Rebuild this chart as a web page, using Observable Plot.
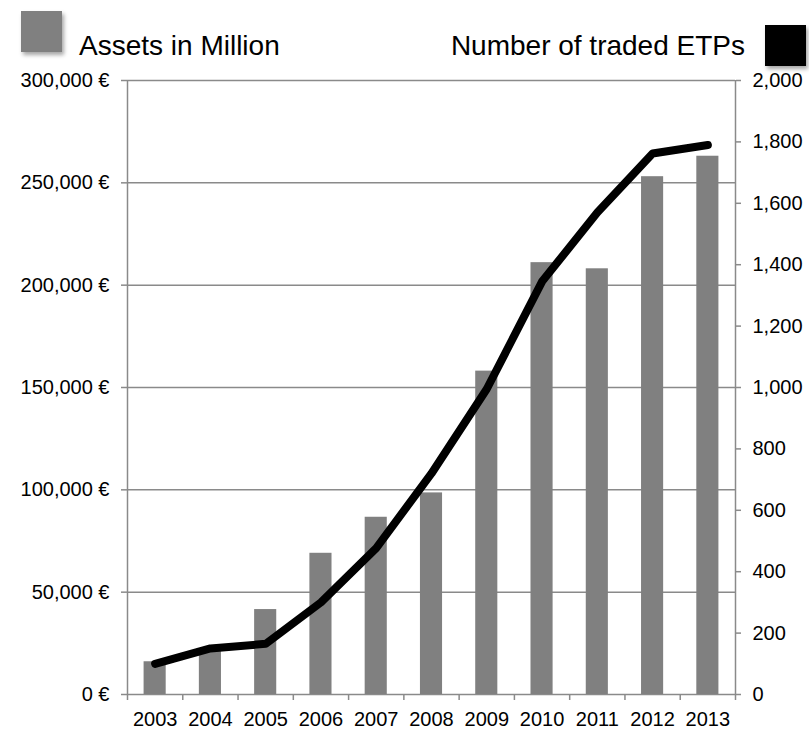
<!DOCTYPE html>
<html>
<head>
<meta charset="utf-8">
<script src="https://cdn.jsdelivr.net/npm/d3@7"></script>
<script src="https://cdn.jsdelivr.net/npm/@observablehq/plot@0.6"></script>
<style>
  html, body { margin: 0; padding: 0; background: #fff; }
  #wrap { position: relative; width: 809px; height: 729px; font-family: "Liberation Sans", Arial, Helvetica, sans-serif; }
  .sw { position: absolute; width: 41px; height: 41px; box-shadow: 2px 3px 4px rgba(0,0,0,0.35); }
  .lt { position: absolute; font-size: 28px; line-height: 28px; color: #000; white-space: nowrap; }
</style>
</head>
<body>
<div id="wrap">
  <div class="sw" style="left:21px; top:11px; background:#808080"></div>
  <div class="lt" style="left:79px; top:32px;">Assets in Million</div>
  <div class="lt" style="right:64px; top:32px;">Number of traded ETPs</div>
  <div class="sw" style="left:765px; top:25px; background:#000"></div>
  <div id="chart"></div>
</div>
<script>
const years = [2003, 2004, 2005, 2006, 2007, 2008, 2009, 2010, 2011, 2012, 2013];
const assets = [16000, 21500, 41500, 69000, 86600, 98500, 158000, 211000, 208000, 253000, 263000];
const etps = [100, 150, 165, 300, 477, 720, 995, 1345, 1570, 1762, 1790];
const leftTicks = [0, 50000, 100000, 150000, 200000, 250000, 300000];
const rightTicks = [0, 200, 400, 600, 800, 1000, 1200, 1400, 1600, 1800, 2000];

const ratio = 300000 / 2000;
const data = years.map((y, i) => ({year: y, assets: assets[i], etps: etps[i]}));
const boundaries = years.map(y => y - 0.5).concat([years[years.length - 1] + 0.5]);
const barHalf = 0.2;
const grey = "#8a8a8a";

const chart = Plot.plot({
  width: 809,
  height: 729,
  marginLeft: 127,
  marginRight: 74,
  marginTop: 80,
  marginBottom: 35,
  style: {fontFamily: "'Liberation Sans', Arial, Helvetica, sans-serif", fontSize: "20px", color: "#000", background: "transparent"},
  x: {type: "linear", domain: [years[0] - 0.5, years[years.length - 1] + 0.5]},
  y: {domain: [0, 300000]},
  marks: [
    Plot.ruleY(leftTicks, {stroke: grey, strokeWidth: 1.5}),
    Plot.ruleX([years[0] - 0.5, years[years.length - 1] + 0.5], {stroke: grey, strokeWidth: 1.5}),
    Plot.rectY(data, {x1: d => d.year - barHalf, x2: d => d.year + barHalf, y: "assets", fill: "#808080",
      style: {filter: "drop-shadow(2px 1px 2px rgba(0,0,0,0.3))"}}),
    Plot.line(data, {x: "year", y: d => d.etps * ratio, stroke: "#000", strokeWidth: 8, strokeLinecap: "round", strokeLinejoin: "round"}),
    Plot.axisY({ticks: leftTicks, tickSize: 6, tickPadding: 12, stroke: grey, strokeWidth: 1.5, strokeOpacity: 1,
      tickFormat: d => d3.format(",")(d) + " €", label: null, fontSize: 20}),
    Plot.axisY({anchor: "right", ticks: rightTicks.map(v => v * ratio), tickSize: 5, tickPadding: 12, stroke: grey, strokeWidth: 1.5, strokeOpacity: 1,
      tickFormat: d => d3.format(",")(Math.round(d / ratio)), label: null, fontSize: 20}),
    Plot.axisX({ticks: boundaries, tickSize: 6, tickFormat: () => "", stroke: grey, strokeWidth: 1.5, strokeOpacity: 1, label: null}),
    Plot.axisX({ticks: years, tickSize: 0, tickPadding: 17, tickFormat: d => String(d), label: null, fontSize: 20})
  ]
});
document.getElementById("chart").appendChild(chart);
</script>
</body>
</html>
